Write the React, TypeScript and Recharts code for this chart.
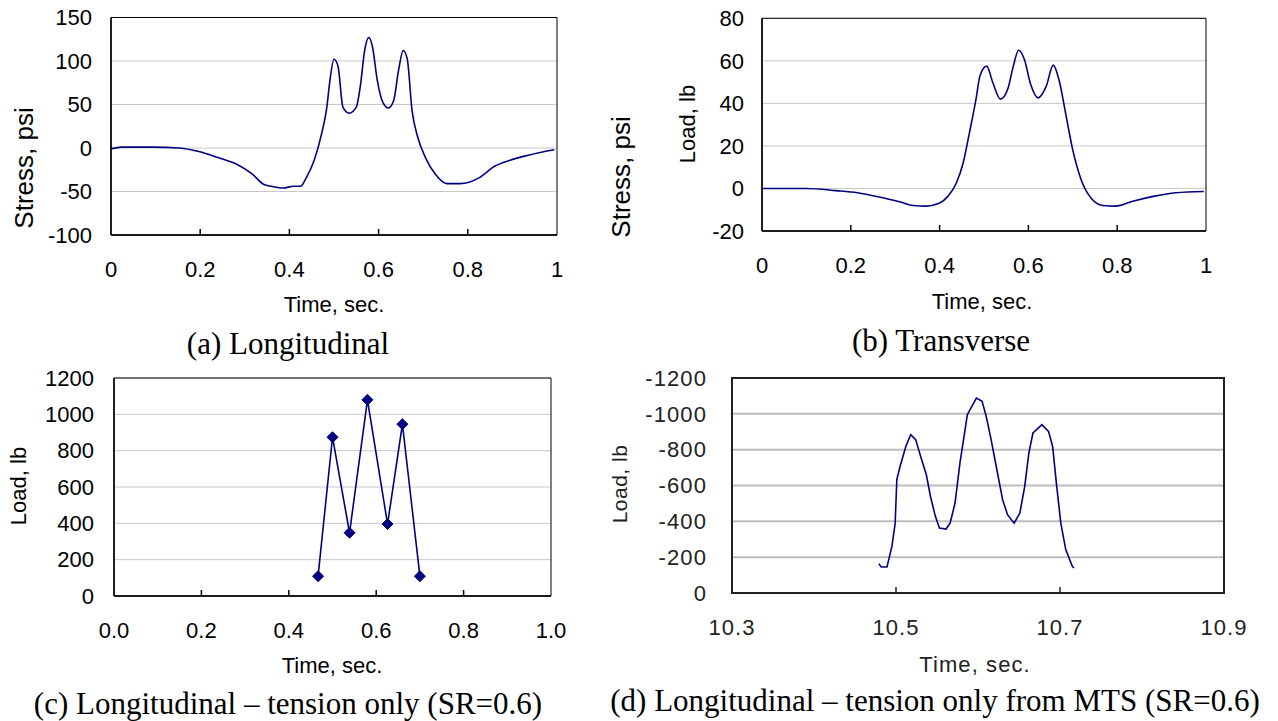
import React from 'react';
import { LineChart, Line, XAxis, YAxis, CartesianGrid, ReferenceArea } from 'recharts';

// (a) Longitudinal stress
const aTime = [0, 0.024, 0.093, 0.153, 0.197, 0.24, 0.283, 0.317, 0.343, 0.36, 0.386, 0.41, 0.425, 0.438, 0.455, 0.472, 0.484, 0.49, 0.5, 0.509, 0.52, 0.534, 0.55, 0.559, 0.569, 0.578, 0.586, 0.597, 0.609, 0.622, 0.634, 0.645, 0.655, 0.664, 0.675, 0.688, 0.705, 0.727, 0.753, 0.783, 0.826, 0.86, 0.895, 0.938, 0.972, 0.994];
const aStress = [-1, 1, 1, 0, -4, -11, -19, -30, -42, -44, -46, -44, -44, -34, -15, 16, 47, 74, 102, 94, 47, 40, 47, 71, 113, 127, 117, 78, 53, 46, 55, 90, 112, 103, 43, 12, -11, -30, -41, -41, -34, -21, -14, -8, -4, -2];
const aXTicks = [0, 0.2, 0.4, 0.6, 0.8, 1];
const aYTicks = [-100, -50, 0, 50, 100, 150];

// (b) Transverse load
const bTime = [0, 0.099, 0.167, 0.215, 0.264, 0.312, 0.341, 0.37, 0.399, 0.419, 0.438, 0.453, 0.467, 0.482, 0.491, 0.506, 0.52, 0.537, 0.554, 0.566, 0.578, 0.591, 0.605, 0.622, 0.64, 0.656, 0.669, 0.685, 0.7, 0.719, 0.743, 0.767, 0.797, 0.835, 0.884, 0.932, 0.995];
const bLoad = [0, 0, -1, -2, -4, -6.4, -8, -8.3, -7, -3.6, 2.7, 12, 26, 42, 53, 57.5, 49.7, 42, 47, 57.5, 65, 60.6, 49, 42.6, 48, 58, 51, 34, 18, 4, -5, -8, -8.3, -6, -3.6, -2, -1.4];
const bXTicks = [0, 0.2, 0.4, 0.6, 0.8, 1];
const bYTicks = [-20, 0, 20, 40, 60, 80];

// (c) tension only, sampled
const cTime = [0.467, 0.5, 0.539, 0.58, 0.626, 0.66, 0.7];
const cLoad = [109, 874, 348, 1080, 396, 946, 109];
const cXTicks = [0, 0.2, 0.4, 0.6, 0.8, 1];
const cYTicks = [0, 200, 400, 600, 800, 1000, 1200];

// (d) tension only from MTS
const dTime = [10.479, 10.482, 10.489, 10.495, 10.499, 10.501, 10.505, 10.512, 10.518, 10.524, 10.53, 10.537, 10.542, 10.548, 10.553, 10.561, 10.566, 10.572, 10.578, 10.583, 10.587, 10.598, 10.605, 10.61, 10.616, 10.623, 10.63, 10.636, 10.644, 10.651, 10.657, 10.662, 10.667, 10.678, 10.686, 10.691, 10.696, 10.701, 10.707, 10.715, 10.717];
const dLoad = [-164, -145, -145, -260, -390, -633, -707, -818, -884, -856, -763, -660, -540, -428, -363, -357, -390, -502, -726, -874, -995, -1088, -1070, -986, -856, -688, -521, -437, -390, -446, -595, -781, -893, -940, -902, -818, -595, -390, -242, -149, -140];
const dXTicks = [10.3, 10.5, 10.7, 10.9];
const dYTicks = [-1200, -1000, -800, -600, -400, -200, 0];

const SANS = '"Liberation Sans", Arial, sans-serif';
const SERIF = '"Liberation Serif", "Times New Roman", serif';
const NAVY = '#000080';

const zip = (t: number[], v: number[]) => t.map((x, i) => ({ t: x, v: v[i] }));

const Diamond = (props: any) => {
  const { cx, cy, index } = props;
  if (cx == null || cy == null) return <g key={index} />;
  const s = 5.5;
  return (
    <path key={index} d={`M${cx},${cy - s}L${cx + s},${cy}L${cx},${cy + s}L${cx - s},${cy}Z`} fill={NAVY} stroke={NAVY} />
  );
};

type Box = { x: number; y: number; w: number; h: number };
type Plot = { l: number; t: number; r: number; b: number };

function Panel(p: {
  box: Box;
  plot: Plot;
  data: { t: number; v: number }[];
  xDomain: [number, number];
  xTicks: number[];
  xFmt: (v: number) => string;
  yDomain: [number, number];
  yTicks: number[];
  yGap: number;
  reversed?: boolean;
  mts?: boolean;
  markers?: boolean;
  smooth?: boolean;
}) {
  const { box, plot } = p;
  const ink = p.mts ? '#222' : '#000';
  const gap = 26;
  const spacing = p.mts ? 1.1 : 0;
  const xTick = (props: any) => {
    const { x, y, payload } = props;
    const axisY = y - gap;
    const inner = payload.value > p.xDomain[0] && payload.value < p.xDomain[1];
    return (
      <g>
        {inner && <line x1={x} x2={x} y1={axisY} y2={axisY - 6} stroke={ink} strokeWidth={1.5} />}
        <text x={x} y={y} dy="0.71em" textAnchor="middle" fontSize={22} fontFamily={SANS} fill={ink} letterSpacing={spacing}>
          {p.xFmt(payload.value)}
        </text>
      </g>
    );
  };
  return (
    <div style={{ position: 'absolute', left: box.x, top: box.y }}>
      <LineChart
        width={box.w}
        height={box.h}
        data={p.data}
        margin={{ top: plot.t - box.y, right: box.x + box.w - plot.r, left: 0, bottom: 0 }}
      >
        <CartesianGrid vertical={false} stroke={p.mts ? '#bdbdbd' : '#c8c8c8'} strokeWidth={p.mts ? 2 : 1} />
        <XAxis
          type="number"
          dataKey="t"
          domain={p.xDomain}
          ticks={p.xTicks}
          interval={0}
          height={box.y + box.h - plot.b}
          tickLine={false}
          tickSize={0}
          tickMargin={gap}
          tick={xTick}
          axisLine={{ stroke: ink, strokeWidth: p.mts ? 2 : 1.5 }}
          allowDataOverflow
        />
        <YAxis
          type="number"
          domain={p.yDomain}
          ticks={p.yTicks}
          interval={0}
          reversed={p.reversed}
          width={plot.l - box.x}
          tickLine={false}
          tickSize={0}
          tickMargin={p.yGap}
          tick={{ fontSize: 22, fill: ink, fontFamily: SANS, letterSpacing: spacing }}
          axisLine={{ stroke: ink, strokeWidth: p.mts ? 2 : 1.5 }}
          allowDataOverflow
        />
        <ReferenceArea
          x1={p.xDomain[0]}
          x2={p.xDomain[1]}
          y1={p.yDomain[0]}
          y2={p.yDomain[1]}
          fill="none"
          stroke={ink}
          strokeWidth={p.mts ? 2 : 1}
          ifOverflow="visible"
        />
        <Line
          type={p.smooth ? 'monotone' : 'linear'}
          dataKey="v"
          stroke={NAVY}
          strokeWidth={1.6}
          dot={p.markers ? Diamond : false}
          activeDot={false}
          isAnimationActive={false}
        />
      </LineChart>
    </div>
  );
}

function Txt(props: { x: number; y: number; size: number; serif?: boolean; rotate?: boolean; color?: string; spacing?: number; children: React.ReactNode }) {
  return (
    <div
      style={{
        position: 'absolute',
        left: props.x,
        top: props.y,
        transform: `translate(-50%, -50%)${props.rotate ? ' rotate(-90deg)' : ''}`,
        fontFamily: props.serif ? SERIF : SANS,
        fontSize: props.size,
        lineHeight: 1,
        whiteSpace: 'nowrap',
        color: props.color || '#000',
        letterSpacing: props.spacing || 0,
      }}
    >
      {props.children}
    </div>
  );
}

const plain = (v: number) => String(v);
const oneDec = (v: number) => v.toFixed(1);

export default function App() {
  return (
    <div style={{ position: 'absolute', left: 0, top: 0, width: 1278, height: 721, background: '#fff', overflow: 'hidden', fontFamily: SANS }}>
      <Panel
        box={{ x: 0, y: 0, w: 600, h: 290 }}
        plot={{ l: 111, t: 17.5, r: 557, b: 235 }}
        data={zip(aTime, aStress)}
        xDomain={[0, 1]}
        xTicks={aXTicks}
        xFmt={plain}
        yDomain={[-100, 150]}
        yTicks={aYTicks}
        yGap={19}
        smooth
      />
      <Txt x={24} y={168} size={26} rotate>Stress, psi</Txt>
      <Txt x={334} y={305} size={22}>Time, sec.</Txt>
      <Txt x={288} y={343} size={31} serif>(a) Longitudinal</Txt>

      <Panel
        box={{ x: 640, y: 0, w: 638, h: 290 }}
        plot={{ l: 762, t: 18.3, r: 1206, b: 231 }}
        data={zip(bTime, bLoad)}
        xDomain={[0, 1]}
        xTicks={bXTicks}
        xFmt={plain}
        yDomain={[-20, 80]}
        yTicks={bYTicks}
        yGap={18}
        smooth
      />
      <Txt x={621} y={177} size={26} rotate>Stress, psi</Txt>
      <Txt x={688} y={124} size={22} rotate>Load, lb</Txt>
      <Txt x={982} y={302} size={22}>Time, sec.</Txt>
      <Txt x={941} y={340} size={31} serif>(b) Transverse</Txt>

      <Panel
        box={{ x: 0, y: 360, w: 600, h: 290 }}
        plot={{ l: 114, t: 378, r: 551, b: 596 }}
        data={zip(cTime, cLoad)}
        xDomain={[0, 1]}
        xTicks={cXTicks}
        xFmt={oneDec}
        yDomain={[0, 1200]}
        yTicks={cYTicks}
        yGap={20}
        markers
      />
      <Txt x={19} y={486} size={22} rotate>Load, lb</Txt>
      <Txt x={332} y={666} size={22}>Time, sec.</Txt>
      <Txt x={288} y={703} size={31} serif>(c) Longitudinal – tension only (SR=0.6)</Txt>

      <Panel
        box={{ x: 640, y: 360, w: 638, h: 290 }}
        plot={{ l: 732, t: 378, r: 1224, b: 593 }}
        data={zip(dTime, dLoad)}
        xDomain={[10.3, 10.9]}
        xTicks={dXTicks}
        xFmt={oneDec}
        yDomain={[-1200, 0]}
        yTicks={dYTicks}
        yGap={25}
        reversed
        mts
      />
      <Txt x={619} y={484} size={21} rotate color="#222" spacing={0.5}>Load, lb</Txt>
      <Txt x={975} y={665} size={22} color="#222" spacing={1.1}>Time, sec.</Txt>
      <Txt x={935} y={700} size={31} serif>(d) Longitudinal – tension only from MTS (SR=0.6)</Txt>
    </div>
  );
}
